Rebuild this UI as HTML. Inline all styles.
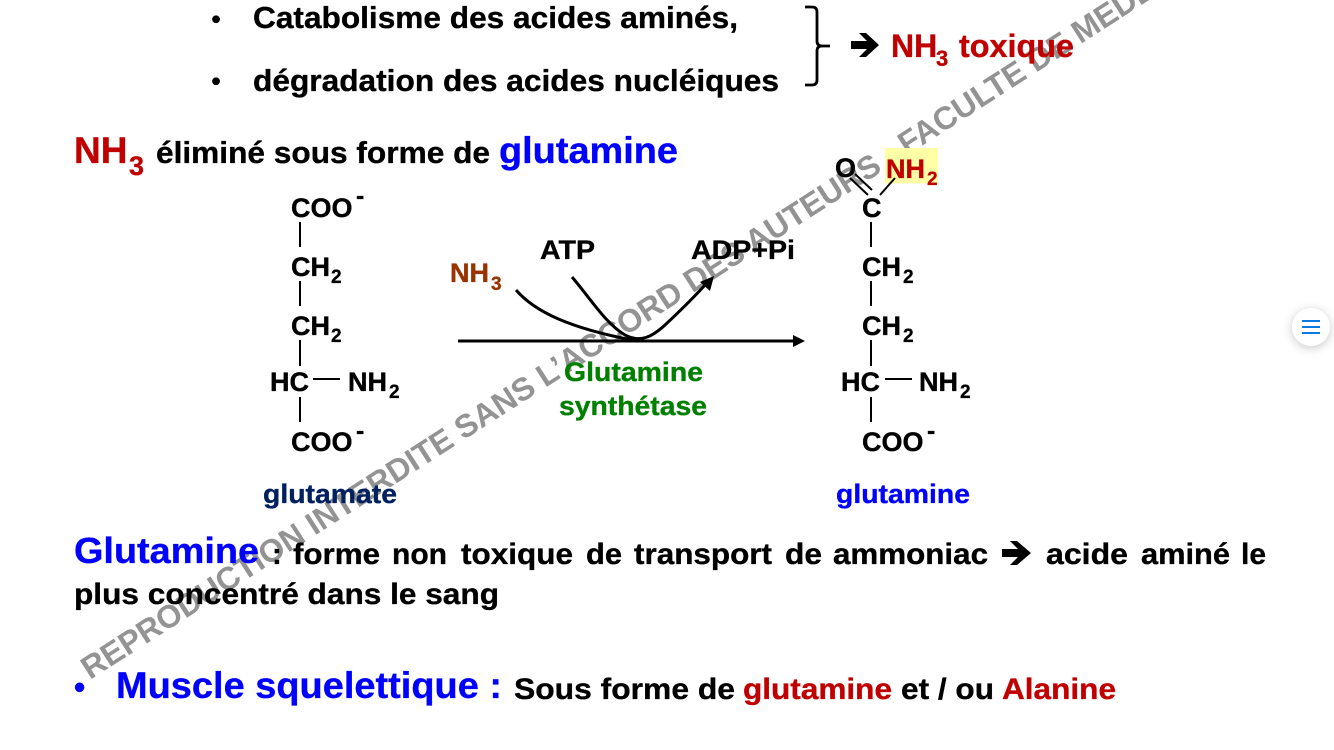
<!DOCTYPE html>
<html lang="fr"><head><meta charset="utf-8"><title>Glutamine</title>
<style>
html,body{margin:0;padding:0;background:#fff;width:1334px;height:750px;overflow:hidden}
svg{position:absolute;left:0;top:0;display:block}
text{font-family:"Liberation Sans",Arial,sans-serif;font-weight:bold;fill:currentColor;stroke:currentColor;stroke-width:.35px}
.c{font-size:27px;color:#000}
.s{font-size:19px}
.l{stroke:#000;stroke-width:2;fill:none}
</style></head><body>
<svg width="1334" height="750" viewBox="0 0 1334 750" xmlns="http://www.w3.org/2000/svg">
<rect width="1334" height="750" fill="#fff"/>
<!-- watermark behind content -->
<text transform="translate(90 680) rotate(-32.700)" font-size="32" color="#939393" style="stroke-width:0" textLength="1345">REPRODUCTION INTERDITE SANS L’ACCORD DES AUTEURS - FACULTE DE MEDECINE</text>
<!-- top bullets -->
<text x="211.500" y="28" font-size="26" color="#000">•</text>
<text x="253" y="28" font-size="31" color="#000" textLength="485" lengthAdjust="spacingAndGlyphs">Catabolisme des acides aminés,</text>
<text x="211.500" y="90" font-size="26" color="#000">•</text>
<text x="253" y="91" font-size="31" color="#000" textLength="526" lengthAdjust="spacingAndGlyphs">dégradation des acides nucléiques</text>
<path d="M805 7H812Q817 7 817 12V41Q817 46 822 46H830M822 46Q817 46 817 51V80Q817 85 812 85H805" fill="none" stroke="#000" stroke-width="2.800"/>
<path d="M851 41H867L859 33H866L879 45L866 57H859L867 49H851Z" fill="#000"/>
<text x="891" y="57" font-size="32" color="#c00000">NH</text><text x="936" y="66" font-size="22" color="#c00000">3</text>
<text x="959" y="57" font-size="32" color="#c00000" textLength="115" lengthAdjust="spacingAndGlyphs">toxique</text>
<!-- heading -->
<text x="74" y="163" font-size="37" color="#c00000">NH</text><text x="129" y="175" font-size="27" color="#c00000">3</text>
<text x="156" y="163" font-size="31" color="#000" textLength="334" lengthAdjust="spacingAndGlyphs">éliminé sous forme de</text>
<text x="499" y="163" font-size="37" color="#0000ff" textLength="179" lengthAdjust="spacingAndGlyphs">glutamine</text>
<!-- glutamate -->
<g>
<text class="c" x="291" y="217">COO</text><text x="356" y="204" font-size="25" color="#000">-</text>
<path class="l" d="M300 222V247M300 281V306M300 340V366M313 379H340M300 397V422"/>
<text class="c" x="291" y="276" color="#000">CH</text><text class="s" x="331" y="283" color="#000">2</text>
<text class="c" x="291" y="335">CH</text><text class="s" x="331" y="342" color="#000">2</text>
<text class="c" x="270" y="391">HC</text>
<text class="c" x="348" y="391">NH</text><text class="s" x="389" y="398" color="#000">2</text>
<text class="c" x="291" y="451">COO</text><text x="356" y="439" font-size="25" color="#000">-</text>
<text x="263" y="503" font-size="26.500" color="#002060" textLength="134" lengthAdjust="spacingAndGlyphs">glutamate</text>
</g>
<!-- glutamine struct -->
<g>
<rect x="885" y="148" width="53" height="35.500" fill="#ffffa6"/>
<text class="c" x="835" y="177">O</text>
<text x="886" y="178" font-size="27" color="#c00000">NH</text><text x="927" y="185" font-size="19" color="#c00000">2</text>
<path class="l" d="M850 178L868 195M855 174L872 190M880 195L895 178"/>
<text class="c" x="862" y="217">C</text>
<path class="l" d="M871 222V247M871 281V306M871 340V366M885 379H912M871 397V422"/>
<text class="c" x="862" y="276">CH</text><text class="s" x="903" y="283" color="#000">2</text>
<text class="c" x="862" y="335">CH</text><text class="s" x="903" y="342" color="#000">2</text>
<text class="c" x="841" y="391">HC</text>
<text class="c" x="919" y="391">NH</text><text class="s" x="960" y="398" color="#000">2</text>
<text class="c" x="862" y="451">COO</text><text x="927" y="439" font-size="25" color="#000">-</text>
<text x="836" y="503" font-size="26.500" color="#0000ff" textLength="134" lengthAdjust="spacingAndGlyphs">glutamine</text>
</g>
<!-- reaction -->
<text class="c" x="540" y="259" textLength="55" lengthAdjust="spacingAndGlyphs">ATP</text>
<text class="c" x="691" y="259" textLength="104" lengthAdjust="spacingAndGlyphs">ADP+Pi</text>
<text x="450" y="282" font-size="27" color="#993300">NH</text><text x="491" y="290" font-size="19" color="#993300">3</text>
<path d="M458 341H795" stroke="#000" stroke-width="3" fill="none"/>
<path d="M793 335L805 341L793 347Z" fill="#000"/>
<path d="M516 290C535 312 570 328 632 340" stroke="#000" stroke-width="3" fill="none"/>
<path d="M572 277C590 298 606 324 625 335C640 343 652 337 665 325C680 311 695 296 706 284" stroke="#000" stroke-width="3" fill="none"/>
<path d="M714 276L710 291L700 282Z" fill="#000"/>
<text x="564" y="381" font-size="26.500" color="#008000" textLength="139" lengthAdjust="spacingAndGlyphs">Glutamine</text>
<text x="559" y="415" font-size="26.500" color="#008000" textLength="148" lengthAdjust="spacingAndGlyphs">synthétase</text>
<!-- paragraph -->
<text x="74" y="563" font-size="36" color="#0000ff" textLength="185" lengthAdjust="spacingAndGlyphs">Glutamine</text>
<g font-size="29.500" color="#000">
<text x="272" y="564">:</text>
<text x="293" y="564" textLength="87" lengthAdjust="spacingAndGlyphs">forme</text>
<text x="392" y="564" textLength="55" lengthAdjust="spacingAndGlyphs">non</text>
<text x="461" y="564" textLength="112" lengthAdjust="spacingAndGlyphs">toxique</text>
<text x="586" y="564" textLength="36" lengthAdjust="spacingAndGlyphs">de</text>
<text x="634" y="564" textLength="138" lengthAdjust="spacingAndGlyphs">transport</text>
<text x="785" y="564" textLength="37" lengthAdjust="spacingAndGlyphs">de</text>
<text x="833" y="564" textLength="155" lengthAdjust="spacingAndGlyphs">ammoniac</text>
<text x="1046" y="564" textLength="82" lengthAdjust="spacingAndGlyphs">acide</text>
<text x="1141" y="564" textLength="89" lengthAdjust="spacingAndGlyphs">aminé</text>
<text x="1241" y="564" textLength="25" lengthAdjust="spacingAndGlyphs">le</text>
</g>
<path d="M1002 549H1018L1010 541H1017L1031 553L1017 565H1010L1018 557H1002Z" fill="#000"/>
<text x="74" y="604" font-size="30" color="#000" textLength="425" lengthAdjust="spacingAndGlyphs">plus concentré dans le sang</text>
<!-- bottom -->
<text x="74" y="698" font-size="32" color="#0000ff">•</text>
<text x="116" y="698" font-size="37" color="#0000ff" textLength="386" lengthAdjust="spacingAndGlyphs">Muscle squelettique :</text>
<text x="514" y="699" font-size="30" color="#000" textLength="221" lengthAdjust="spacingAndGlyphs">Sous forme de</text>
<text x="743" y="699" font-size="30" color="#c00000" textLength="149" lengthAdjust="spacingAndGlyphs">glutamine</text>
<text x="901" y="699" font-size="30" color="#000" textLength="93" lengthAdjust="spacingAndGlyphs">et / ou</text>
<text x="1002" y="699" font-size="30" color="#c00000" textLength="114" lengthAdjust="spacingAndGlyphs">Alanine</text>
<!-- floating button -->
<defs><filter id="sh" x="-60%" y="-60%" width="220%" height="220%"><feDropShadow dx="0" dy="2" stdDeviation="5" flood-color="#000" flood-opacity=".22"/></filter></defs>
<circle cx="1311" cy="327" r="19" fill="#fff" filter="url(#sh)"/>
<path d="M1302 321H1320M1302 327H1320M1302 333H1320" stroke="#0a7ae0" stroke-width="2"/>
</svg>
</body></html>
